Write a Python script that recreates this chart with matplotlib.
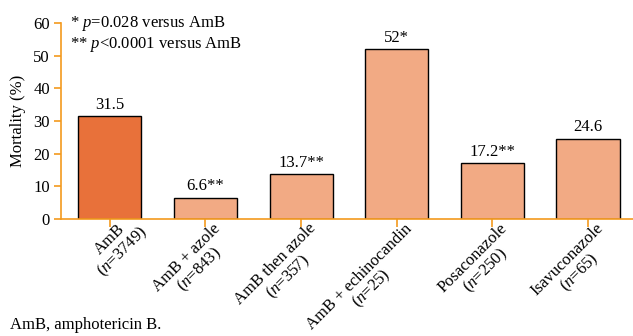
import numpy as np
import matplotlib.pyplot as plt
from matplotlib.transforms import ScaledTranslation

plt.rcParams['font.family'] = 'Liberation Serif'
plt.rcParams['mathtext.fontset'] = 'custom'
plt.rcParams['mathtext.it'] = 'Liberation Serif:italic'
plt.rcParams['mathtext.rm'] = 'Liberation Serif'

# mortality by treatment group
groups = ['AmB', 'AmB + azole', 'AmB then azole', 'AmB + echinocandin',
          'Posaconazole', 'Isavuconazole']
n_patients = [3749, 843, 357, 25, 250, 65]
mortality = [31.5, 6.6, 13.7, 52, 17.2, 24.6]
signif = ['', '**', '**', '*', '**', '']

axis_col = '#F39A1E'
bar_cols = ['#E8713A'] + ['#F2AA84'] * 5
fs = 12

fig = plt.figure(figsize=(6.33, 3.36), dpi=100)
ax = fig.add_axes([0.0964, 0.348, 0.9036, 0.5835])

x = range(len(groups))
ax.bar(x, mortality, width=0.66, color=bar_cols, edgecolor='black', linewidth=1.0)

for xi, v, s in zip(x, mortality, signif):
    ax.text(xi, v + 1.0, f'{v:g}{s}', ha='center', va='bottom', fontsize=fs)

ax.set_xlim(-0.51, 5.47)
ax.set_ylim(0, 60)
ax.set_yticks(range(0, 61, 10))
ax.set_xticks(list(x))
ax.set_xticklabels([])

# slanted two-line group labels: each line is its own text, both centred on
# a common axis, with the top-right corner of the block just right of the tick
renderer = fig.canvas.get_renderer()
c = np.cos(np.pi / 4)
u = np.array([c, c])     # along the text
v = np.array([c, -c])    # down the text
corner = np.array([7.0, -1.5])  # px from (tick, axis line)
for xi, g, n in zip(x, groups, n_patients):
    probe = ax.text(0, 0, g, fontsize=fs)
    bb = probe.get_window_extent(renderer)
    probe.remove()
    q = corner - (bb.width / 2) * u + bb.height * v
    tr = ax.get_xaxis_transform() + ScaledTranslation(q[0] / fig.dpi, q[1] / fig.dpi,
                                                      fig.dpi_scale_trans)
    ax.text(xi, 0, g, transform=tr, rotation=45, rotation_mode='anchor',
            ha='center', va='bottom', fontsize=fs)
    ax.text(xi, 0, f'(${{\\it n}}$={n})', transform=tr, rotation=45,
            rotation_mode='anchor', ha='center', va='top', fontsize=fs)

ax.tick_params(axis='y', labelsize=fs, color=axis_col, length=5, width=1.2, pad=3)
ax.tick_params(axis='x', color=axis_col, length=6, width=1.2)

for side in ['top', 'right']:
    ax.spines[side].set_visible(False)
for side in ['left', 'bottom']:
    ax.spines[side].set_color(axis_col)
    ax.spines[side].set_linewidth(1.2)

ax.set_ylabel('Mortality (%)', fontsize=fs, labelpad=5)

ax.text(0.015, 60, '* ${\\it p}$=0.028 versus AmB', fontsize=fs, va='center',
        transform=ax.get_yaxis_transform())
ax.text(0.015, 53.3, '** ${\\it p}$<0.0001 versus AmB', fontsize=fs, va='center',
        transform=ax.get_yaxis_transform())

fig.text(0.016, 0.058, 'AmB, amphotericin B.', fontsize=fs, va='top')

fig.savefig('out.png', dpi=100)
